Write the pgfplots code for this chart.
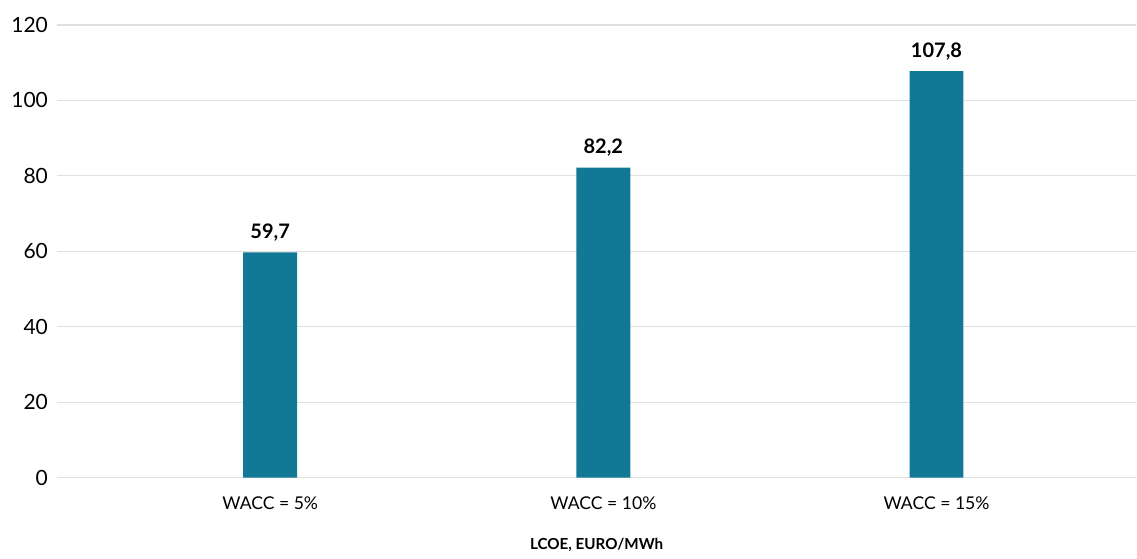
\documentclass[border=0pt]{standalone}
\usepackage{fontspec}
\setmainfont{Lato}
\usepackage{pgfplots}
\pgfplotsset{compat=1.18}
\definecolor{barblue}{HTML}{117896}
\definecolor{gridgray}{HTML}{E0E0E0}
\begin{document}
\begin{tikzpicture}
\begin{axis}[
  name=ax,
  scale only axis,
  width=540pt, height=226.5pt,
  xmin=-0.64, xmax=2.6,
  ymin=0, ymax=120,
  ytick={0,20,...,120},
  xtick={0,1,2},
  xticklabels={WACC = 5\%, WACC = 10\%, WACC = 15\%},
  axis line style={draw=none},
  major tick length=0pt,
  ymajorgrids,
  grid style={gridgray, line width=0.6pt},
  /pgf/number format/assume math mode=true,
  yticklabel style={font=\fontsize{10.5}{12}\selectfont, xshift=-1pt},
  xticklabel style={font=\fontsize{8.8}{10}\selectfont, yshift=-6pt},
  xlabel={\textbf{LCOE, EURO/MWh}},
  xlabel style={font=\fontsize{7.6}{9}\selectfont, yshift=-7.5pt},
  nodes near coords,
  every node near coord/.append style={font=\bfseries\fontsize{10}{12}\selectfont, yshift=2pt},
  point meta=explicit symbolic,
  clip=false,
]
\addplot[ybar, bar width=27pt, fill=barblue, draw=none] coordinates {
  (0,59.7) [59,7]
  (1,82.2) [82,2]
  (2,107.8) [107,8]
};
\end{axis}
\path ([xshift=-28.5pt,yshift=12.5pt]ax.north west) rectangle ([yshift=-37pt]ax.south east);
\end{tikzpicture}
\end{document}
